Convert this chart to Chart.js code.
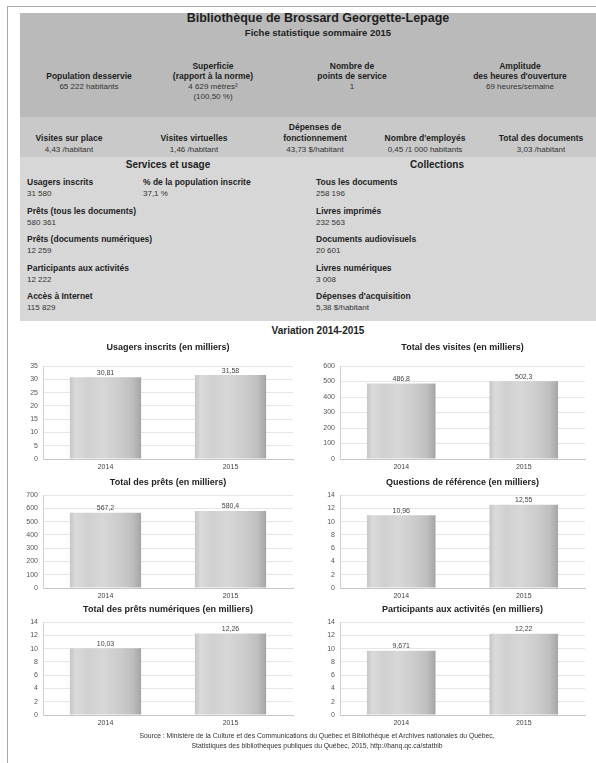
<!DOCTYPE html>
<html>
<head>
<meta charset="utf-8">
<script src="https://cdn.jsdelivr.net/npm/chart.js@4.4.0/dist/chart.umd.min.js"></script>
<style>
body{margin:0;width:596px;height:763px;overflow:hidden;background:#fff;font-family:"Liberation Sans",Arial,sans-serif;color:#1e1e1e;position:relative}
.frame{position:absolute;left:7px;top:6px;width:700px;height:800px;border-top:1px solid #a9a9a9;border-left:1px solid #a9a9a9}
.band{position:absolute;left:20px;width:600px}
.c{position:absolute;white-space:nowrap;transform:translateX(-50%);text-align:center}
.l{position:absolute;white-space:nowrap}
.lab{font-size:8.5px;font-weight:bold}
.val{font-size:8px;color:#333}
.item .lab,.item .val{display:block;line-height:11px}
canvas{position:absolute}
</style>
</head>
<body>
<div class="frame"></div>
<div class="band" style="top:13px;height:104px;background:#bababa"></div>
<div class="band" style="top:117px;height:40px;background:#c9c9c9"></div>
<div class="band" style="top:157px;height:164px;background:#d7d7d7"></div>

<div class="c" style="left:318px;top:11px;font-size:12.5px;font-weight:bold;line-height:15px">Bibliothèque de Brossard Georgette-Lepage</div>
<div class="c" style="left:318px;top:27px;font-size:9.5px;font-weight:bold;line-height:12px">Fiche statistique sommaire 2015</div>

<div class="c" style="left:89px;top:61px;line-height:10.3px"><div class="lab">&nbsp;</div><div class="lab">Population desservie</div><div class="val">65 222 habitants</div></div>
<div class="c" style="left:213px;top:61px;line-height:10.3px"><div class="lab">Superficie</div><div class="lab">(rapport à la norme)</div><div class="val">4 629 mètres²</div><div class="val">(100,50 %)</div></div>
<div class="c" style="left:352px;top:61px;line-height:10.3px"><div class="lab">Nombre de</div><div class="lab">points de service</div><div class="val">1</div></div>
<div class="c" style="left:520px;top:61px;line-height:10.3px"><div class="lab">Amplitude</div><div class="lab">des heures d'ouverture</div><div class="val">69 heures/semaine</div></div>

<div class="c" style="left:69px;top:122px;line-height:11px"><div class="lab">&nbsp;</div><div class="lab">Visites sur place</div><div class="val">4,43 /habitant</div></div>
<div class="c" style="left:194px;top:122px;line-height:11px"><div class="lab">&nbsp;</div><div class="lab">Visites virtuelles</div><div class="val">1,46 /habitant</div></div>
<div class="c" style="left:315px;top:122px;line-height:11px"><div class="lab">Dépenses de</div><div class="lab">fonctionnement</div><div class="val">43,73 $/habitant</div></div>
<div class="c" style="left:425px;top:122px;line-height:11px"><div class="lab">&nbsp;</div><div class="lab">Nombre d'employés</div><div class="val">0,45 /1 000 habitants</div></div>
<div class="c" style="left:541px;top:122px;line-height:11px"><div class="lab">&nbsp;</div><div class="lab">Total des documents</div><div class="val">3,03 /habitant</div></div>

<div class="c" style="left:168px;top:159px;font-size:10px;font-weight:bold;line-height:12px">Services et usage</div>
<div class="c" style="left:437px;top:159px;font-size:10px;font-weight:bold;line-height:12px">Collections</div>

<div class="l item" style="left:27px;top:177px"><span class="lab">Usagers inscrits</span><span class="val">31 580</span></div>
<div class="l item" style="left:143px;top:177px"><span class="lab">% de la population inscrite</span><span class="val">37,1 %</span></div>
<div class="l item" style="left:27px;top:205.5px"><span class="lab">Prêts (tous les documents)</span><span class="val">580 361</span></div>
<div class="l item" style="left:27px;top:234px"><span class="lab">Prêts (documents numériques)</span><span class="val">12 259</span></div>
<div class="l item" style="left:27px;top:262.5px"><span class="lab">Participants aux activités</span><span class="val">12 222</span></div>
<div class="l item" style="left:27px;top:291px"><span class="lab">Accès à Internet</span><span class="val">115 829</span></div>

<div class="l item" style="left:316px;top:177px"><span class="lab">Tous les documents</span><span class="val">258 196</span></div>
<div class="l item" style="left:316px;top:205.5px"><span class="lab">Livres imprimés</span><span class="val">232 563</span></div>
<div class="l item" style="left:316px;top:234px"><span class="lab">Documents audiovisuels</span><span class="val">20 601</span></div>
<div class="l item" style="left:316px;top:262.5px"><span class="lab">Livres numériques</span><span class="val">3 008</span></div>
<div class="l item" style="left:316px;top:291px"><span class="lab">Dépenses d'acquisition</span><span class="val">5,38 $/habitant</span></div>

<div class="c" style="left:318px;top:325px;font-size:10px;font-weight:bold;line-height:12px">Variation 2014-2015</div>

<canvas id="c0" width="276" height="134" style="left:22px;top:340px"></canvas>
<canvas id="c1" width="276" height="134" style="left:316px;top:340px"></canvas>
<canvas id="c2" width="276" height="134" style="left:22px;top:469px"></canvas>
<canvas id="c3" width="276" height="134" style="left:316px;top:469px"></canvas>
<canvas id="c4" width="276" height="134" style="left:22px;top:596px"></canvas>
<canvas id="c5" width="276" height="134" style="left:316px;top:596px"></canvas>

<div class="c" style="left:317px;top:731px;font-size:6.8px;color:#333;line-height:9.5px">Source : Ministère de la Culture et des Communications du Québec et Bibliothèque et Archives nationales du Québec,<br>Statistiques des bibliothèques publiques du Québec, 2015, http://banq.qc.ca/statbib</div>

<script>
const years = ["2014", "2015"];
const chartTitles = [
  "Usagers inscrits (en milliers)",
  "Total des visites (en milliers)",
  "Total des prêts (en milliers)",
  "Questions de référence (en milliers)",
  "Total des prêts numériques (en milliers)",
  "Participants aux activités (en milliers)"
];
const usagers = [30.81, 31.58];
const visites = [486.8, 502.3];
const prets = [567.2, 580.4];
const questions = [10.96, 12.55];
const pretsNum = [10.03, 12.26];
const participants = [9.671, 12.22];
const yMax = [35, 600, 700, 14, 14, 14];
const yStep = [5, 100, 100, 2, 2, 2];

const series = [usagers, visites, prets, questions, pretsNum, participants];

Chart.defaults.font.family = "'Liberation Sans', Arial, sans-serif";
Chart.defaults.animation = false;

// cylinder-like shading, built per bar from the x scale
function barShade(c) {
  const chart = c.chart;
  const xs = chart.scales.x;
  if (!chart.chartArea || !xs) return "#cccccc";
  const ds = chart.data.datasets[c.datasetIndex];
  const w = xs.width / chart.data.labels.length * ds.barPercentage * ds.categoryPercentage;
  const x0 = xs.getPixelForValue(c.dataIndex) - w / 2;
  const g = chart.ctx.createLinearGradient(x0, 0, x0 + w, 0);
  g.addColorStop(0, "#c6c6c6");
  g.addColorStop(0.08, "#dadada");
  g.addColorStop(0.25, "#d0d0d0");
  g.addColorStop(0.45, "#d7d7d7");
  g.addColorStop(0.7, "#cccccc");
  g.addColorStop(0.88, "#bebebe");
  g.addColorStop(1, "#a5a5a5");
  return g;
}

// value printed above each bar
const barValues = {
  id: "barValues",
  afterDatasetsDraw(chart) {
    const ctx = chart.ctx;
    const values = chart.data.datasets[0].data;
    ctx.save();
    ctx.font = "7px 'Liberation Sans', Arial, sans-serif";
    ctx.fillStyle = "#444";
    ctx.textAlign = "center";
    ctx.textBaseline = "bottom";
    chart.getDatasetMeta(0).data.forEach((bar, i) => {
      ctx.fillText(String(values[i]).replace(".", ","), bar.x, bar.y - 1);
    });
    ctx.restore();
  }
};

series.forEach((values, i) => {
  const right = i % 2 === 1;
  const firstRow = i < 2;
  new Chart(document.getElementById("c" + i), {
    type: "bar",
    data: {
      labels: years,
      datasets: [{
        data: values,
        backgroundColor: barShade,
        borderWidth: 0,
        categoryPercentage: 1,
        barPercentage: right ? 0.56 : 0.57
      }]
    },
    options: {
      responsive: false,
      layout: { padding: { left: 0, right: right ? 7 : 5, top: 0, bottom: 2 } },
      plugins: {
        legend: { display: false },
        tooltip: { enabled: false },
        title: {
          display: true,
          text: chartTitles[i],
          fullSize: false,
          color: "#222",
          font: { size: 9, weight: "bold" },
          padding: firstRow ? { top: 2, bottom: 13.2 } : { top: 8, bottom: 7.2 }
        }
      },
      scales: {
        x: {
          grid: { display: false, drawTicks: false },
          border: { display: true, color: "#c6c6c6" },
          ticks: { color: "#444", font: { size: 7 }, padding: 4 },
          afterFit: s => { s.height = 13; }
        },
        y: {
          min: 0,
          max: yMax[i],
          grid: { color: "#e6e6e6", drawTicks: false },
          border: { display: true, color: "#d2d2d2" },
          ticks: { stepSize: yStep[i], color: "#555", font: { size: 7 }, padding: 5 },
          afterFit: s => { s.width = right ? 24 : 21; }
        }
      }
    },
    plugins: [barValues]
  });
});
</script>
</body>
</html>
